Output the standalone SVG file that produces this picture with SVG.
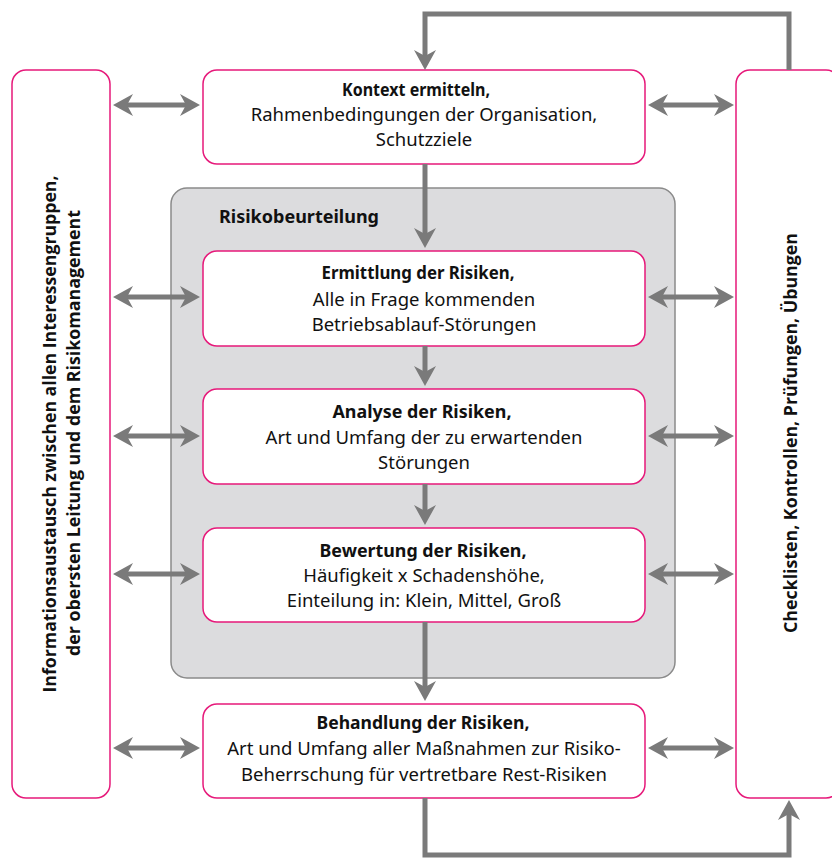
<svg xmlns="http://www.w3.org/2000/svg" width="832" height="858" viewBox="0 0 832 858">
<style>
.box{fill:#fff;stroke:#e6197a;stroke-width:1.5}
.grp{fill:#dcdcde;stroke:#8a8a8a;stroke-width:1.5}
.t{font-family:"Noto Sans","Open Sans",sans-serif;font-size:18.5px;fill:#111;text-anchor:middle}
.b{font-weight:bold;font-size:18px}
.side{font-family:"Open Sans","Noto Sans",sans-serif;font-size:18.5px;font-weight:bold;fill:#111;text-anchor:middle}
.c{fill:none;stroke:#7a7a7a;stroke-width:5}
</style>
<defs>
<marker id="ah" viewBox="0 0 20 22" refX="12" refY="11" markerWidth="20" markerHeight="22" markerUnits="userSpaceOnUse" orient="auto-start-reverse">
<path d="M0,0 L20,11 L0,22 L6,11 z" fill="#7a7a7a"/>
</marker>
</defs>
<rect width="832" height="858" fill="#fff"/>
<g id="risikobeurteilung">
<rect class="grp" x="171" y="188" width="504" height="490" rx="16"/>
<text class="t b" x="219" y="223" style="text-anchor:start" textLength="160" lengthAdjust="spacingAndGlyphs">Risikobeurteilung</text>
</g>
<g id="info">
<rect class="box" x="12" y="70" width="98" height="728" rx="14"/>
<text class="side" transform="translate(56,434) rotate(-90)" textLength="517" lengthAdjust="spacingAndGlyphs">Informationsaustausch zwischen allen Interessengruppen,</text>
<text class="side" transform="translate(80,433) rotate(-90)" textLength="446" lengthAdjust="spacingAndGlyphs">der obersten Leitung und dem Risikomanagement</text>
</g>
<g id="checklisten">
<rect class="box" x="736" y="70" width="104" height="728" rx="14"/>
<text class="side" transform="translate(797,433) rotate(-90)" textLength="400" lengthAdjust="spacingAndGlyphs">Checklisten, Kontrollen, Prüfungen, Übungen</text>
</g>
<g id="kontext">
<rect class="box" x="203" y="70" width="442" height="94" rx="14"/>
<text class="t b" x="416" y="96" textLength="148" lengthAdjust="spacingAndGlyphs">Kontext ermitteln,</text>
<text class="t" x="424" y="121">Rahmenbedingungen der Organisation,</text>
<text class="t" x="424" y="146">Schutzziele</text>
</g>
<g id="ermittlung">
<rect class="box" x="203" y="251" width="442" height="95" rx="14"/>
<text class="t b" x="418" y="279" textLength="193" lengthAdjust="spacingAndGlyphs">Ermittlung der Risiken,</text>
<text class="t" x="424" y="306">Alle in Frage kommenden</text>
<text class="t" x="424" y="331">Betriebsablauf-Störungen</text>
</g>
<g id="analyse">
<rect class="box" x="203" y="389" width="442" height="95" rx="14"/>
<text class="t b" x="422" y="418" textLength="179" lengthAdjust="spacingAndGlyphs">Analyse der Risiken,</text>
<text class="t" x="424" y="444">Art und Umfang der zu erwartenden</text>
<text class="t" x="424" y="469">Störungen</text>
</g>
<g id="bewertung">
<rect class="box" x="203" y="528" width="442" height="94" rx="14"/>
<text class="t b" x="423" y="557" textLength="207" lengthAdjust="spacingAndGlyphs">Bewertung der Risiken,</text>
<text class="t" x="424" y="582">Häufigkeit x Schadenshöhe,</text>
<text class="t" x="424" y="607">Einteilung in: Klein, Mittel, Groß</text>
</g>
<g id="behandlung">
<rect class="box" x="203" y="704" width="442" height="94" rx="14"/>
<text class="t b" x="423" y="729" textLength="213" lengthAdjust="spacingAndGlyphs">Behandlung der Risiken,</text>
<text class="t" x="424" y="755">Art und Umfang aller Maßnahmen zur Risiko-</text>
<text class="t" x="424" y="781">Beherrschung für vertretbare Rest-Risiken</text>
</g>
<g id="connectors">
<path class="c" d="M789,70 V14 H425 V62" marker-end="url(#ah)"/>
<path class="c" d="M425,164 V240" marker-end="url(#ah)"/>
<path class="c" d="M425,346 V378" marker-end="url(#ah)"/>
<path class="c" d="M425,484 V517" marker-end="url(#ah)"/>
<path class="c" d="M425,622 V693" marker-end="url(#ah)"/>
<path class="c" d="M425,798 V855 H789 V808" marker-end="url(#ah)"/>
<path class="c" d="M121,105 H192" marker-start="url(#ah)" marker-end="url(#ah)"/>
<path class="c" d="M656,105 H726" marker-start="url(#ah)" marker-end="url(#ah)"/>
<path class="c" d="M121,297 H192" marker-start="url(#ah)" marker-end="url(#ah)"/>
<path class="c" d="M656,297 H726" marker-start="url(#ah)" marker-end="url(#ah)"/>
<path class="c" d="M121,436 H192" marker-start="url(#ah)" marker-end="url(#ah)"/>
<path class="c" d="M656,436 H726" marker-start="url(#ah)" marker-end="url(#ah)"/>
<path class="c" d="M121,574 H192" marker-start="url(#ah)" marker-end="url(#ah)"/>
<path class="c" d="M656,574 H726" marker-start="url(#ah)" marker-end="url(#ah)"/>
<path class="c" d="M121,748 H192" marker-start="url(#ah)" marker-end="url(#ah)"/>
<path class="c" d="M656,748 H726" marker-start="url(#ah)" marker-end="url(#ah)"/>
</g>
</svg>
